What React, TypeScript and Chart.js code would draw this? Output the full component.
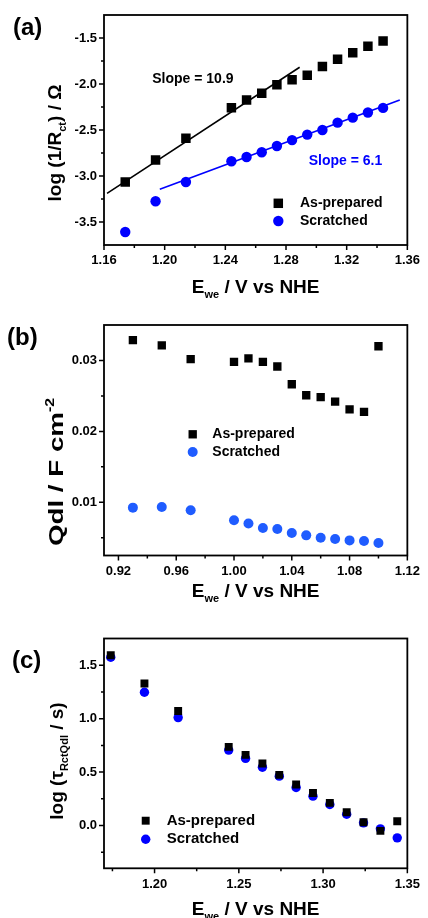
import React, { useEffect, useRef } from 'react';
import { Chart, registerables } from 'chart.js';

Chart.register(...registerables);

const FONT = "'Liberation Sans', Arial, Helvetica, sans-serif";

// ---------- Panel (a) data ----------
const potentialA = [1.174, 1.194, 1.214, 1.244, 1.254, 1.264, 1.274, 1.284, 1.294, 1.304, 1.314, 1.324, 1.334, 1.344];
const logInvRctAsPrepared = [-3.065, -2.826, -2.59, -2.258, -2.174, -2.1, -2.007, -1.953, -1.905, -1.81, -1.73, -1.66, -1.59, -1.533];
const logInvRctScratched = [-3.609, -3.275, -3.065, -2.84, -2.793, -2.742, -2.674, -2.61, -2.55, -2.5, -2.42, -2.366, -2.31, -2.26];
const fitAsPreparedX = [1.162, 1.289];
const fitAsPreparedY = [-3.188, -1.818];
const fitScratchedX = [1.1968, 1.355];
const fitScratchedY = [-3.145, -2.174];
const xTicksA = [1.16, 1.2, 1.24, 1.28, 1.32, 1.36];
const xMinorA = [1.18, 1.22, 1.26, 1.3, 1.34];
const yTicksA = [-3.5, -3.0, -2.5, -2.0, -1.5];
const yMinorA = [-3.25, -2.75, -2.25, -1.75];
const slopeLabels = ['Slope = 10.9', 'Slope = 6.1'];
const slopeLabelX = [1.1918, 1.295];
const slopeLabelY = [-1.946, -2.834];

// ---------- Panel (b) data ----------
const potentialB = [0.93, 0.95, 0.97, 1.0, 1.01, 1.02, 1.03, 1.04, 1.05, 1.06, 1.07, 1.08, 1.09, 1.1];
const qdlAsPrepared = [0.03287, 0.03212, 0.03018, 0.0298, 0.0303, 0.0298, 0.02915, 0.02665, 0.0251, 0.02482, 0.0242, 0.0231, 0.02275, 0.032];
const qdlScratched = [0.00925, 0.00935, 0.00887, 0.00746, 0.007, 0.00638, 0.00624, 0.00568, 0.00534, 0.00501, 0.00483, 0.00463, 0.00455, 0.00427];
const xTicksB = [0.92, 0.96, 1.0, 1.04, 1.08, 1.12];
const xMinorB = [0.94, 0.98, 1.02, 1.06, 1.1];
const yTicksB = [0.01, 0.02, 0.03];
const yMinorB = [0.005, 0.015, 0.025];

// ---------- Panel (c) data ----------
const potentialC = [1.174, 1.194, 1.214, 1.244, 1.254, 1.264, 1.274, 1.284, 1.294, 1.304, 1.314, 1.324, 1.334, 1.344];
const logTauAsPrepared = [1.594, 1.329, 1.071, 0.736, 0.661, 0.58, 0.474, 0.384, 0.305, 0.212, 0.124, 0.031, -0.05, 0.04];
const logTauScratched = [1.575, 1.247, 1.01, 0.706, 0.628, 0.546, 0.462, 0.356, 0.275, 0.197, 0.106, 0.025, -0.031, -0.115];
const xTicksC = [1.2, 1.25, 1.3, 1.35];
const xMinorC = [1.175, 1.225, 1.275, 1.325];
const yTicksC = [0.0, 0.5, 1.0, 1.5];
const yMinorC = [-0.25, 0.25, 0.75, 1.25];

const seriesNames = ['As-prepared', 'Scratched'];

type Part = { t: string; size: number; dy?: number };

function font(size: number) {
  return `bold ${size}px ${FONT}`;
}

function richWidth(ctx: CanvasRenderingContext2D, parts: Part[]) {
  let w = 0;
  for (const p of parts) {
    ctx.font = font(p.size);
    w += ctx.measureText(p.t).width;
  }
  return w;
}

function drawRich(ctx: CanvasRenderingContext2D, parts: Part[], x: number, y: number) {
  const w = richWidth(ctx, parts);
  let cx = x - w / 2;
  ctx.textAlign = 'left';
  ctx.textBaseline = 'alphabetic';
  for (const p of parts) {
    ctx.font = font(p.size);
    ctx.fillText(p.t, cx, y + (p.dy || 0));
    cx += ctx.measureText(p.t).width;
  }
}

const xTitleParts: Part[] = [
  { t: 'E', size: 19 },
  { t: 'we', size: 11, dy: 5 },
  { t: ' / V vs NHE', size: 19 },
];

type Panel = {
  top: number;
  height: number;
  padTop: number;
  xHeight: number;
  xMin: number;
  xMax: number;
  yMin: number;
  yMax: number;
  xTicks: number[];
  xMinor: number[];
  yTicks: number[];
  yMinor: number[];
  xDec: number;
  yDec: number;
  datasets: any[];
  legend: { mx: number; ty: number[]; tx: number; size: number };
  label: { t: string; x: number; y: number };
  yTitle: Part[];
  yTitleX: number;
  yTitleY: number;
  yTitleStretch: number;
  xTitleY: number;
  notes?: { t: string; x: number; y: number; color: string }[];
};

const BLUE = '#0000ff';
const BLUE_B = '#1f5cff';

function pts(xs: number[], ys: number[]) {
  return xs.map((x, i) => ({ x, y: ys[i] }));
}

const panels: Panel[] = [
  {
    top: 0,
    height: 300,
    padTop: 15,
    xHeight: 55,
    xMin: 1.16,
    xMax: 1.36,
    yMin: -3.75,
    yMax: -1.25,
    xTicks: xTicksA,
    xMinor: xMinorA,
    yTicks: yTicksA,
    yMinor: yMinorA,
    xDec: 2,
    yDec: 1,
    datasets: [
      { label: seriesNames[0], data: pts(potentialA, logInvRctAsPrepared), pointStyle: 'rect', pointRadius: 6.7, backgroundColor: '#000', borderColor: '#000', borderWidth: 0 },
      { label: seriesNames[1], data: pts(potentialA, logInvRctScratched), pointStyle: 'circle', pointRadius: 5.2, backgroundColor: BLUE, borderColor: BLUE, borderWidth: 0 },
      { label: 'fit1', data: pts(fitAsPreparedX, fitAsPreparedY), showLine: true, pointRadius: 0, borderColor: '#000', borderWidth: 1.6 },
      { label: 'fit2', data: pts(fitScratchedX, fitScratchedY), showLine: true, pointRadius: 0, borderColor: BLUE, borderWidth: 1.6 },
    ],
    legend: { mx: 278.3, ty: [203.3, 221], tx: 300, size: 14 },
    label: { t: '(a)', x: 13, y: 28 },
    yTitle: [
      { t: 'log (1/R', size: 19 },
      { t: 'ct', size: 11, dy: 5 },
      { t: ') / Ω', size: 19 },
    ],
    yTitleX: 61,
    yTitleY: 143,
    yTitleStretch: 1,
    xTitleY: 293,
    notes: [
      { t: slopeLabels[0], x: slopeLabelX[0], y: slopeLabelY[0], color: '#000' },
      { t: slopeLabels[1], x: slopeLabelX[1], y: slopeLabelY[1], color: BLUE },
    ],
  },
  {
    top: 300,
    height: 310,
    padTop: 25,
    xHeight: 54.5,
    xMin: 0.91,
    xMax: 1.12,
    yMin: 0.0025,
    yMax: 0.035,
    xTicks: xTicksB,
    xMinor: xMinorB,
    yTicks: yTicksB,
    yMinor: yMinorB,
    xDec: 2,
    yDec: 2,
    datasets: [
      { label: seriesNames[0], data: pts(potentialB, qdlAsPrepared), pointStyle: 'rect', pointRadius: 5.9, backgroundColor: '#000', borderColor: '#000', borderWidth: 0 },
      { label: seriesNames[1], data: pts(potentialB, qdlScratched), pointStyle: 'circle', pointRadius: 5, backgroundColor: BLUE_B, borderColor: BLUE_B, borderWidth: 0 },
    ],
    legend: { mx: 192.7, ty: [134.3, 152], tx: 212.3, size: 14 },
    label: { t: '(b)', x: 7, y: 38 },
    yTitle: [
      { t: 'Qdl / F cm', size: 21 },
      { t: '-2', size: 12, dy: -9 },
    ],
    yTitleX: 63,
    yTitleY: 172,
    yTitleStretch: 1.32,
    xTitleY: 296.7,
  },
  {
    top: 610,
    height: 308,
    padTop: 28.5,
    xHeight: 49.7,
    xMin: 1.17,
    xMax: 1.35,
    yMin: -0.4,
    yMax: 1.75,
    xTicks: xTicksC,
    xMinor: xMinorC,
    yTicks: yTicksC,
    yMinor: yMinorC,
    xDec: 2,
    yDec: 1,
    datasets: [
      { label: seriesNames[0], data: pts(potentialC, logTauAsPrepared), pointStyle: 'rect', pointRadius: 5.6, backgroundColor: '#000', borderColor: '#000', borderWidth: 0 },
      { label: seriesNames[1], data: pts(potentialC, logTauScratched), pointStyle: 'circle', pointRadius: 4.7, backgroundColor: BLUE, borderColor: BLUE, borderWidth: 0 },
    ],
    legend: { mx: 145.7, ty: [210.7, 229.3], tx: 166.7, size: 15 },
    label: { t: '(c)', x: 12, y: 51 },
    yTitle: [
      { t: 'log (', size: 19 },
      { t: 'τ', size: 19 },
      { t: 'RctQdl', size: 11, dy: 5 },
      { t: ' / s)', size: 19 },
    ],
    yTitleX: 63,
    yTitleY: 151,
    yTitleStretch: 1,
    xTitleY: 305,
  },
];

function makeDecor(p: Panel) {
  return {
    id: 'decor',
    afterDraw(chart: any) {
      const ctx: CanvasRenderingContext2D = chart.ctx;
      const a = chart.chartArea;
      const xs = chart.scales.x;
      const ys = chart.scales.y;
      ctx.save();
      ctx.strokeStyle = '#000';
      ctx.fillStyle = '#000';
      // frame
      ctx.lineWidth = 1.8;
      ctx.strokeRect(a.left, a.top, a.right - a.left, a.bottom - a.top);
      // ticks
      ctx.lineWidth = 1.5;
      ctx.beginPath();
      for (const v of p.xTicks) {
        const x = xs.getPixelForValue(v);
        ctx.moveTo(x, a.bottom);
        ctx.lineTo(x, a.bottom + 5);
      }
      for (const v of p.xMinor) {
        const x = xs.getPixelForValue(v);
        ctx.moveTo(x, a.bottom);
        ctx.lineTo(x, a.bottom + 3);
      }
      for (const v of p.yTicks) {
        const y = ys.getPixelForValue(v);
        ctx.moveTo(a.left, y);
        ctx.lineTo(a.left - 5, y);
      }
      for (const v of p.yMinor) {
        const y = ys.getPixelForValue(v);
        ctx.moveTo(a.left, y);
        ctx.lineTo(a.left - 3, y);
      }
      ctx.stroke();

      // panel label
      ctx.font = font(24);
      ctx.textAlign = 'left';
      ctx.textBaseline = 'middle';
      ctx.fillText(p.label.t, p.label.x, p.label.y);

      // x title
      drawRich(ctx, xTitleParts, (a.left + a.right) / 2, p.xTitleY);

      // y title
      ctx.save();
      ctx.translate(p.yTitleX, p.yTitleY);
      ctx.rotate(-Math.PI / 2);
      ctx.scale(p.yTitleStretch, 1);
      drawRich(ctx, p.yTitle, 0, 0);
      ctx.restore();

      // notes
      if (p.notes) {
        for (const n of p.notes) {
          ctx.font = font(14);
          ctx.fillStyle = n.color;
          ctx.textAlign = 'left';
          ctx.textBaseline = 'middle';
          ctx.fillText(n.t, xs.getPixelForValue(n.x), ys.getPixelForValue(n.y));
        }
      }

      // legend
      for (let i = 0; i < 2; i++) {
        const ds = chart.data.datasets[i];
        const y = p.legend.ty[i];
        ctx.fillStyle = ds.backgroundColor;
        ctx.beginPath();
        if (ds.pointStyle === 'rect') {
          const s = Math.SQRT1_2 * ds.pointRadius;
          ctx.rect(p.legend.mx - s, y - s, 2 * s, 2 * s);
        } else {
          ctx.arc(p.legend.mx, y, ds.pointRadius, 0, Math.PI * 2);
        }
        ctx.fill();
        ctx.fillStyle = '#000';
        ctx.font = font(p.legend.size);
        ctx.textAlign = 'left';
        ctx.textBaseline = 'middle';
        ctx.fillText(ds.label, p.legend.tx, y);
      }
      ctx.restore();
    },
  };
}

function PanelChart({ p }: { p: Panel }) {
  const ref = useRef<HTMLCanvasElement>(null);
  useEffect(() => {
    if (!ref.current) return;
    const tickFont = { family: FONT, size: 13, weight: 'bold' as const };
    const chart = new Chart(ref.current, {
      type: 'scatter',
      data: { datasets: p.datasets },
      options: {
        animation: false,
        responsive: false,
        devicePixelRatio: 1,
        layout: { padding: { left: 0, right: 14, top: p.padTop, bottom: 0 } },
        plugins: { legend: { display: false }, tooltip: { enabled: false } },
        scales: {
          x: {
            type: 'linear',
            min: p.xMin,
            max: p.xMax,
            grid: { display: false, drawTicks: false },
            border: { display: false },
            afterFit: (s: any) => {
              s.height = p.xHeight;
            },
            afterBuildTicks: (s: any) => {
              s.ticks = p.xTicks.map((v) => ({ value: v }));
            },
            ticks: {
              padding: 8,
              color: '#000',
              font: tickFont,
              maxRotation: 0,
              autoSkip: false,
              callback: (v: any) => Number(v).toFixed(p.xDec),
            },
          },
          y: {
            type: 'linear',
            min: p.yMin,
            max: p.yMax,
            grid: { display: false, drawTicks: false },
            border: { display: false },
            afterFit: (s: any) => {
              s.width = 104;
            },
            afterBuildTicks: (s: any) => {
              s.ticks = p.yTicks.map((v) => ({ value: v }));
            },
            ticks: {
              padding: 7,
              color: '#000',
              font: tickFont,
              autoSkip: false,
              callback: (v: any) => Number(v).toFixed(p.yDec),
            },
          },
        },
      },
      plugins: [makeDecor(p)],
    });
    return () => chart.destroy();
  }, [p]);
  return (
    <canvas
      ref={ref}
      width={428}
      height={p.height}
      style={{ position: 'absolute', left: 0, top: p.top, width: 428, height: p.height }}
    />
  );
}

export default function App() {
  return (
    <div style={{ position: 'absolute', left: 0, top: 0, width: 428, height: 918, background: '#fff', overflow: 'hidden' }}>
      {panels.map((p, i) => (
        <PanelChart key={i} p={p} />
      ))}
    </div>
  );
}
